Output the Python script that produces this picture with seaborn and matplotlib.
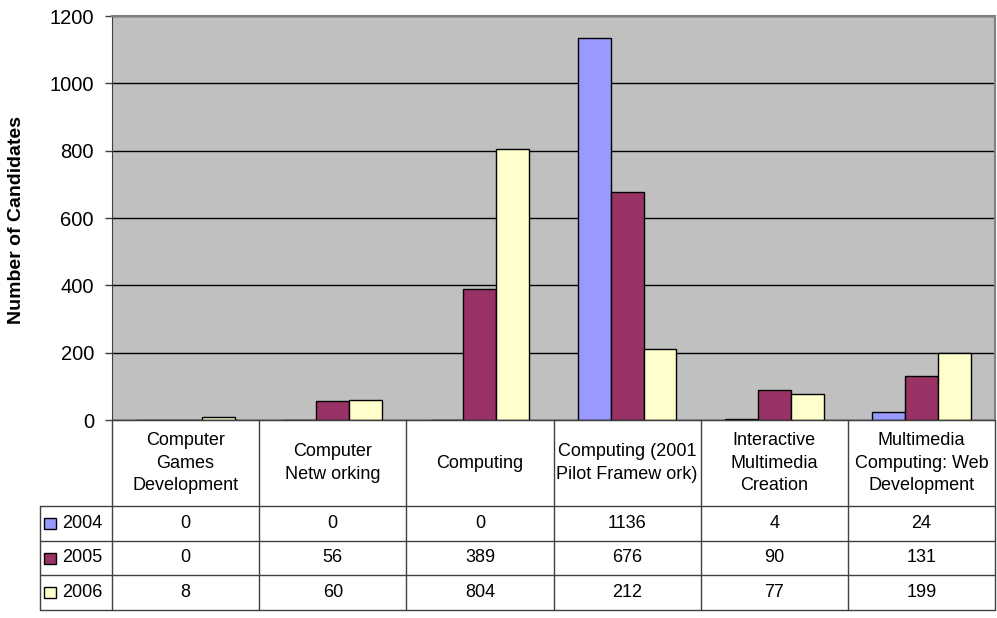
import pandas as pd
import numpy as np
import matplotlib.pyplot as plt
import matplotlib.transforms as mtransforms
from matplotlib.patches import Rectangle
import seaborn as sns

sns.set_style("white")
plt.rcParams["font.family"] = ["Liberation Sans", "DejaVu Sans"]
plt.rcParams["text.color"] = "black"
plt.rcParams["axes.labelcolor"] = "black"
plt.rcParams["ytick.labelcolor"] = "black"

courses = [
    "Computer\nGames\nDevelopment",
    "Computer\nNetw orking",
    "Computing",
    "Computing (2001\nPilot Framew ork)",
    "Interactive\nMultimedia\nCreation",
    "Multimedia\nComputing: Web\nDevelopment",
]
years = ["2004", "2005", "2006"]
y2004 = [0, 0, 0, 1136, 4, 24]
y2005 = [0, 56, 389, 676, 90, 131]
y2006 = [8, 60, 804, 212, 77, 199]
colors = ["#9999FF", "#993366", "#FFFFCC"]

series = [y2004, y2005, y2006]
df = pd.DataFrame({
    "Course": np.tile(courses, len(years)),
    "Year": np.repeat(years, len(courses)),
    "Candidates": np.concatenate(series),
})

W, H = 997, 618
fig = plt.figure(figsize=(W / 100, H / 100), dpi=100)
left, right, top, bottom = 112, 995, 16, 420
ax = fig.add_axes([left / W, 1 - bottom / H, (right - left) / W, (bottom - top) / H])

sns.barplot(data=df, x="Course", y="Candidates", hue="Year", palette=colors,
            width=0.67, saturation=1, edgecolor="black", linewidth=1,
            legend=False, ax=ax)

ax.set_facecolor("#C0C0C0")
ax.set_xlim(-0.5, len(courses) - 0.5)
ax.set_ylim(0, 1200)
ax.set_yticks(range(0, 1201, 200))
ax.set_xticks([])
ax.set_xlabel("")
ax.yaxis.grid(True, color="black", linewidth=1)
ax.set_axisbelow(True)
ax.tick_params(axis="y", left=True, length=5, width=1, color="#404040",
               labelsize=14.5, pad=8, labelcolor="black")
for s in ["top", "right"]:
    ax.spines[s].set_color("#808080")
    ax.spines[s].set_linewidth(1.5)
ax.spines["left"].set_color("#404040")
ax.spines["bottom"].set_color("#404040")
ax.set_ylabel("Number of Candidates", fontsize=14, fontweight="bold", color="black")
ax.yaxis.set_label_coords(-0.098, 0.495)

# data table below the chart
tab = fig.add_axes([0, 0, 1, 1])
tab.set_xlim(0, W)
tab.set_ylim(H, 0)
tab.axis("off")
tr = mtransforms.blended_transform_factory(ax.transData, tab.transData)

n = len(courses)
leg_left = -0.5 - (left - 40) / ((right - left) / n)
hdr_top, hdr_bot = 420, 506
row_edges = [506, 541, 575, 610]
lc = "#404040"

# header cells
tab.plot([-0.5, n - 0.5], [hdr_top, hdr_top], color=lc, lw=1, transform=tr)
for i in range(n + 1):
    tab.plot([i - 0.5, i - 0.5], [hdr_top, row_edges[-1]], color=lc, lw=1, transform=tr)
tab.plot([leg_left, leg_left], [row_edges[0], row_edges[-1]], color=lc, lw=1, transform=tr)
for y in row_edges:
    tab.plot([leg_left, n - 0.5], [y, y], color=lc, lw=1, transform=tr)

for i, c in enumerate(courses):
    tab.text(i, (hdr_top + hdr_bot) / 2, c, ha="center", va="center",
             fontsize=13, linespacing=1.4, color="black", transform=tr)

for r, (yr, vals, col) in enumerate(zip(years, series, colors)):
    yc = (row_edges[r] + row_edges[r + 1]) / 2
    tab.add_patch(Rectangle((leg_left + 0.03, yc - 5.5), 0.08, 11, facecolor=col,
                            edgecolor="black", lw=1, transform=tr))
    tab.text(leg_left + 0.15, yc, yr, ha="left", va="center", fontsize=13,
             color="black", transform=tr)
    for i, v in enumerate(vals):
        tab.text(i, yc, str(v), ha="center", va="center", fontsize=13,
                 color="black", transform=tr)

fig.savefig("out.png", dpi=100)
